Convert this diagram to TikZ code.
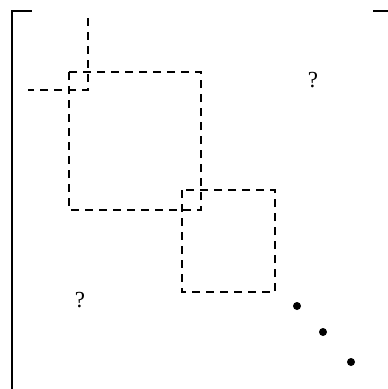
\documentclass[tikz,border=0pt]{standalone}
\usepackage{fontspec}
\setmainfont{Liberation Serif}
\begin{document}
\begin{tikzpicture}[x=1pt,y=-1pt,
  blk/.style={line width=1.6pt,dash pattern=on 8pt off 6pt},
  brk/.style={line width=1.8pt},
  qm/.style={font=\fontsize{23}{23}\selectfont,inner sep=0pt},
  dotmark/.style={circle,fill=black,inner sep=0pt,minimum size=8pt}]
\useasboundingbox (0,0) rectangle (388,389);
% bracket
\coordinate (bl) at (12,389);
\coordinate (tl) at (12,11);
\coordinate (tr) at (32,11);
\draw[brk] (bl) -- (tl) -- (tr);
\coordinate (ra) at (373,11);
\coordinate (rb) at (388,11);
\draw[brk] (ra) -- (rb);
% previous block corner
\coordinate (p1) at (88,18);
\coordinate (p2) at (88,90);
\coordinate (p3) at (28,90);
\draw[blk] (p1) -- (p2) -- (p3);
% big block
\coordinate (a1) at (69,72);
\coordinate (a2) at (201,210);
\draw[blk] (a1) rectangle (a2);
% small block
\coordinate (b1) at (182,190);
\coordinate (b2) at (275,292);
\draw[blk] (b1) rectangle (b2);
% question marks
\node[qm] (q1) at (313,80) {?};
\node[qm] (q2) at (80,300) {?};
% dots
\node[dotmark] (d1) at (297,306) {};
\node[dotmark] (d2) at (323,332) {};
\node[dotmark] (d3) at (351,362) {};
\end{tikzpicture}
\end{document}
